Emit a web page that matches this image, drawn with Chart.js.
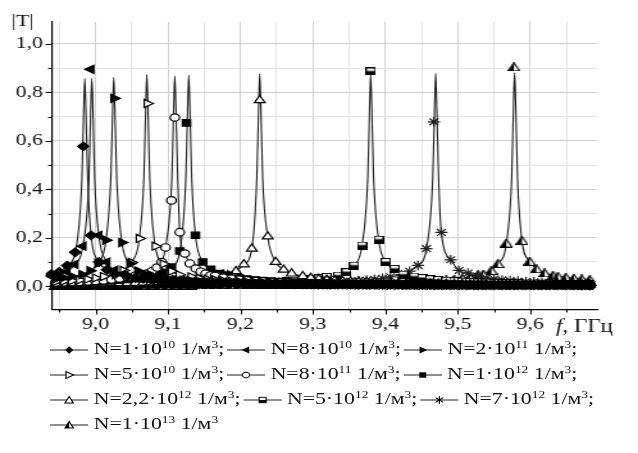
<!DOCTYPE html>
<html>
<head>
<meta charset="utf-8">
<script src="https://cdn.jsdelivr.net/npm/chart.js@4.4.1/dist/chart.umd.min.js"></script>
<style>
html, body { margin: 0; padding: 0; background: #fff; width: 638px; height: 453px; overflow: hidden; }
#wrap { width: 498px; transform: scaleX(1.2811); transform-origin: 0 0; }
#box { position: relative; width: 498px; height: 336px; }
#legend { font-family: "Liberation Serif", "Times New Roman", serif; font-size: 17px; color: #111; padding-left: 39px; }
.row { height: 25px; line-height: 25px; white-space: nowrap; }
.row svg { vertical-align: -1px; }
.item { margin-right: 2px; }
sup { font-size: 10.5px; line-height: 0; vertical-align: 6px; }
</style>
</head>
<body>
<div id="wrap">
  <div id="box"><canvas id="myChart"></canvas></div>
  <div id="legend"></div>
</div>
<script>
// Legend text: N = mantissa * 10^exponent 1/m^3
const mantissa = ['1', '8', '2', '5', '8', '1', '2,2', '5', '7', '1'];
const exponent = [10, 10, 11, 10, 11, 12, 12, 12, 12, 13];

// Frequency grid of the baseline markers, GHz
const freqs = [8.945, 8.956, 8.967, 8.978, 8.989, 9.000, 9.011, 9.022, 9.033, 9.044,
  9.055, 9.066, 9.077, 9.088, 9.099, 9.110, 9.121, 9.132, 9.143, 9.154,
  9.165, 9.176, 9.187, 9.198, 9.209, 9.220, 9.231, 9.242, 9.253, 9.264,
  9.275, 9.286, 9.297, 9.308, 9.319, 9.330, 9.341, 9.352, 9.363, 9.374,
  9.385, 9.396, 9.407, 9.418, 9.429, 9.440, 9.451, 9.462, 9.473, 9.484,
  9.495, 9.506, 9.517, 9.528, 9.539, 9.550, 9.561, 9.572, 9.583, 9.594,
  9.605, 9.616, 9.627, 9.638, 9.649, 9.660, 9.671, 9.682];

// |T| on that grid (null = close to the peak, see mark arrays)
const base1 = [null, null, null, null, null, null, null, null, null, 0.041,
  0.034, 0.030, 0.026, 0.023, 0.021, 0.019, 0.018, 0.016, 0.015, 0.014,
  0.013, 0.013, 0.012, 0.011, 0.011, 0.010, 0.010, 0.009, 0.009, 0.009,
  0.008, 0.008, 0.008, 0.007, 0.007, 0.007, 0.007, 0.007, 0.006, 0.006,
  0.006, 0.006, 0.006, 0.006, 0.005, 0.005, 0.005, 0.005, 0.005, 0.005,
  0.005, 0.005, 0.005, 0.004, 0.004, 0.004, 0.004, 0.004, 0.004, 0.004,
  0.004, 0.004, 0.004, 0.004, 0.004, 0.004, 0.003, 0.003];
const base2 = [null, null, null, null, null, null, null, null, null, null,
  0.040, 0.034, 0.029, 0.026, 0.023, 0.021, 0.019, 0.018, 0.016, 0.015,
  0.014, 0.013, 0.013, 0.012, 0.011, 0.011, 0.010, 0.010, 0.009, 0.009,
  0.009, 0.008, 0.008, 0.008, 0.007, 0.007, 0.007, 0.007, 0.007, 0.006,
  0.006, 0.006, 0.006, 0.006, 0.006, 0.005, 0.005, 0.005, 0.005, 0.005,
  0.005, 0.005, 0.005, 0.005, 0.004, 0.004, 0.004, 0.004, 0.004, 0.004,
  0.004, 0.004, 0.004, 0.004, 0.004, 0.004, 0.004, 0.003];
const base3 = [0.030, 0.035, 0.041, null, null, null, null, null, null, null,
  null, null, 0.046, 0.038, 0.032, 0.028, 0.025, 0.022, 0.020, 0.019,
  0.017, 0.016, 0.015, 0.014, 0.013, 0.012, 0.012, 0.011, 0.011, 0.010,
  0.010, 0.009, 0.009, 0.008, 0.008, 0.008, 0.008, 0.007, 0.007, 0.007,
  0.007, 0.007, 0.006, 0.006, 0.006, 0.006, 0.006, 0.006, 0.005, 0.005,
  0.005, 0.004, 0.004, 0.004, 0.004, 0.004, 0.004, 0.004, 0.004, 0.004,
  0.004, 0.004, 0.004, 0.004, 0.004, 0.004, 0.004, 0.004];
const base4 = [0.019, 0.021, 0.023, 0.026, 0.029, 0.034, 0.040, null, null, null,
  null, null, null, null, null, null, null, 0.039, 0.033, 0.029,
  0.026, 0.023, 0.021, 0.019, 0.017, 0.016, 0.015, 0.014, 0.013, 0.012,
  0.012, 0.011, 0.011, 0.010, 0.010, 0.009, 0.009, 0.009, 0.008, 0.008,
  0.008, 0.007, 0.007, 0.007, 0.007, 0.007, 0.006, 0.006, 0.006, 0.006,
  0.006, 0.006, 0.005, 0.005, 0.005, 0.005, 0.005, 0.005, 0.005, 0.005,
  0.004, 0.004, 0.004, 0.004, 0.004, 0.004, 0.004, 0.004];
const base5 = [0.015, 0.016, 0.017, 0.018, 0.020, 0.022, 0.024, 0.028, 0.032, 0.037,
  0.044, null, null, null, null, null, null, null, null, null,
  0.043, 0.036, 0.031, 0.027, 0.024, 0.022, 0.020, 0.018, 0.017, 0.015,
  0.014, 0.014, 0.013, 0.012, 0.011, 0.011, 0.010, 0.010, 0.009, 0.009,
  0.009, 0.008, 0.008, 0.008, 0.008, 0.007, 0.007, 0.007, 0.007, 0.006,
  0.006, 0.006, 0.006, 0.006, 0.006, 0.006, 0.005, 0.005, 0.005, 0.005,
  0.005, 0.005, 0.005, 0.005, 0.005, 0.004, 0.004, 0.004];
const base6 = [0.013, 0.014, 0.015, 0.016, 0.017, 0.019, 0.020, 0.022, 0.025, 0.028,
  0.032, 0.038, null, null, null, null, null, null, null, null,
  null, null, null, 0.035, 0.030, 0.026, 0.024, 0.021, 0.019, 0.018,
  0.016, 0.015, 0.014, 0.013, 0.013, 0.012, 0.011, 0.011, 0.010, 0.010,
  0.009, 0.009, 0.009, 0.008, 0.008, 0.008, 0.007, 0.007, 0.007, 0.007,
  0.007, 0.006, 0.006, 0.006, 0.006, 0.006, 0.006, 0.005, 0.005, 0.005,
  0.005, 0.005, 0.005, 0.005, 0.005, 0.005, 0.004, 0.004];
const base7 = [0.009, 0.009, 0.009, 0.010, 0.010, 0.011, 0.011, 0.012, 0.012, 0.013,
  0.014, 0.015, 0.016, 0.017, 0.019, 0.021, 0.023, 0.025, 0.029, 0.033,
  0.039, 0.047, null, null, null, null, null, null, null, null,
  null, 0.041, 0.034, 0.030, 0.026, 0.023, 0.021, 0.019, 0.018, 0.016,
  0.015, 0.014, 0.013, 0.013, 0.012, 0.011, 0.011, 0.010, 0.010, 0.009,
  0.009, 0.009, 0.008, 0.008, 0.008, 0.007, 0.007, 0.007, 0.007, 0.006,
  0.006, 0.006, 0.006, 0.006, 0.006, 0.005, 0.005, 0.005];
const base8 = [0.006, 0.006, 0.006, 0.006, 0.006, 0.006, 0.007, 0.007, 0.007, 0.007,
  0.007, 0.008, 0.008, 0.008, 0.009, 0.009, 0.009, 0.010, 0.010, 0.011,
  0.011, 0.012, 0.012, 0.013, 0.014, 0.015, 0.016, 0.017, 0.019, 0.021,
  0.023, 0.026, 0.029, 0.033, 0.039, null, null, null, null, null,
  null, null, null, null, null, 0.040, 0.034, 0.029, 0.026, 0.023,
  0.021, 0.019, 0.018, 0.016, 0.015, 0.014, 0.013, 0.013, 0.012, 0.011,
  0.011, 0.010, 0.010, 0.009, 0.009, 0.009, 0.008, 0.008];
const base9 = [0.005, 0.005, 0.005, 0.005, 0.005, 0.005, 0.005, 0.005, 0.006, 0.006,
  0.006, 0.006, 0.006, 0.006, 0.006, 0.007, 0.007, 0.007, 0.007, 0.008,
  0.008, 0.008, 0.009, 0.009, 0.009, 0.010, 0.010, 0.011, 0.011, 0.012,
  0.012, 0.013, 0.014, 0.015, 0.016, 0.017, 0.019, 0.021, 0.023, 0.025,
  0.029, 0.033, 0.039, null, null, null, null, null, null, null,
  null, null, null, 0.041, 0.034, 0.030, 0.026, 0.023, 0.021, 0.019,
  0.018, 0.016, 0.015, 0.014, 0.013, 0.013, 0.012, 0.011];
const base10 = [0.004, 0.004, 0.004, 0.004, 0.004, 0.004, 0.004, 0.004, 0.004, 0.004,
  0.005, 0.005, 0.005, 0.005, 0.005, 0.005, 0.005, 0.005, 0.006, 0.006,
  0.006, 0.006, 0.006, 0.006, 0.007, 0.007, 0.007, 0.007, 0.007, 0.008,
  0.008, 0.008, 0.009, 0.009, 0.009, 0.010, 0.010, 0.011, 0.011, 0.012,
  0.012, 0.013, 0.014, 0.015, 0.016, 0.017, 0.019, 0.021, 0.023, 0.026,
  0.029, 0.033, 0.039, 0.048, null, null, null, null, null, null,
  null, null, null, 0.041, 0.037, 0.033, 0.030, 0.028];

// Markers around each resonance (frequency, |T|)
const markF1 = [8.9389, 8.9499, 8.9609, 8.9719, 8.9829, 8.9939, 9.0049, 9.0159, 9.0269];
const markT1 = [0.050, 0.059, 0.085, 0.140, 0.577, 0.210, 0.100, 0.068, 0.050];
const markF2 = [8.9385, 8.9495, 8.9605, 8.9715, 8.9825, 8.9935, 9.0045, 9.0155, 9.0265, 9.0375];
const markT2 = [0.043, 0.046, 0.060, 0.090, 0.165, 0.895, 0.210, 0.100, 0.066, 0.049];
const markF3 = [8.9815, 8.9925, 9.0035, 9.0145, 9.0255, 9.0365, 9.0475, 9.0585, 9.0695];
const markT3 = [0.048, 0.064, 0.095, 0.190, 0.775, 0.180, 0.093, 0.063, 0.047];
const markF4 = [9.0275, 9.0385, 9.0495, 9.0605, 9.0715, 9.0825, 9.0935, 9.1045, 9.1155];
const markT4 = [0.048, 0.065, 0.098, 0.197, 0.754, 0.165, 0.092, 0.062, 0.047];
const markF5 = [9.0711, 9.0779, 9.0847, 9.0914, 9.0966, 9.1048, 9.1094, 9.1163, 9.1232, 9.1301, 9.1383, 9.1452, 9.1520, 9.1588];
const markT5 = [0.052, 0.062, 0.077, 0.100, 0.160, 0.354, 0.696, 0.223, 0.135, 0.094, 0.073, 0.060, 0.052, 0.045];
const markF6 = [9.0810, 9.0928, 9.1048, 9.1163, 9.1255, 9.1379, 9.1480, 9.1590, 9.1713, 9.1830];
const markT6 = [0.045, 0.058, 0.079, 0.145, 0.674, 0.210, 0.100, 0.070, 0.052, 0.045];
const markF7 = [9.1827, 9.1937, 9.2047, 9.2157, 9.2266, 9.2376, 9.2486, 9.2596, 9.2706];
const markT7 = [0.045, 0.062, 0.090, 0.155, 0.767, 0.205, 0.100, 0.068, 0.052];
const markF8 = [9.3346, 9.3462, 9.3567, 9.3677, 9.3797, 9.3907, 9.4004, 9.4128, 9.4243];
const markT8 = [0.044, 0.058, 0.085, 0.168, 0.886, 0.192, 0.100, 0.072, 0.048];
const markF9 = [9.4220, 9.4335, 9.4450, 9.4566, 9.4670, 9.4772, 9.4901, 9.5015, 9.5140];
const markT9 = [0.048, 0.062, 0.086, 0.155, 0.678, 0.222, 0.109, 0.065, 0.054];
const markF10 = [9.5352, 9.5462, 9.5553, 9.5669, 9.5774, 9.5884, 9.5990, 9.6083, 9.6197, 9.6312];
const markT10 = [0.050, 0.065, 0.093, 0.178, 0.905, 0.189, 0.103, 0.072, 0.055, 0.045];

// Top of each resonance line (no markers)
const spikeF1 = [8.9812, 8.9837, 8.9852, 8.9867, 8.9892];
const spikeT1 = [0.44, 0.73, 0.857, 0.73, 0.44];
const spikeF2 = [8.9909, 8.9934, 8.9949, 8.9964, 8.9989];
const spikeT2 = [0.44, 0.73, 0.857, 0.73, 0.44];
const spikeF3 = [9.0212, 9.0237, 9.0252, 9.0267, 9.0292];
const spikeT3 = [0.45, 0.73, 0.862, 0.73, 0.45];
const spikeF4 = [9.0668, 9.0693, 9.0708, 9.0723, 9.0748];
const spikeT4 = [0.45, 0.74, 0.873, 0.74, 0.45];
const spikeF5 = [9.1054, 9.1079, 9.1094, 9.1109, 9.1134];
const spikeT5 = [0.45, 0.74, 0.867, 0.74, 0.45];
const spikeF6 = [9.1247, 9.1272, 9.1287, 9.1302, 9.1327];
const spikeT6 = [0.45, 0.74, 0.870, 0.74, 0.45];
const spikeF7 = [9.2226, 9.2251, 9.2266, 9.2281, 9.2306];
const spikeT7 = [0.45, 0.74, 0.876, 0.74, 0.45];
const spikeF8 = [9.3757, 9.3782, 9.3797, 9.3812, 9.3837];
const spikeT8 = [0.45, 0.74, 0.873, 0.74, 0.45];
const spikeF9 = [9.4654, 9.4679, 9.4694, 9.4709, 9.4734];
const spikeT9 = [0.45, 0.74, 0.877, 0.74, 0.45];
const spikeF10 = [9.5743, 9.5768, 9.5783, 9.5798, 9.5823];
const spikeT10 = [0.45, 0.75, 0.880, 0.75, 0.45];

const baseT = [base1, base2, base3, base4, base5, base6, base7, base8, base9, base10];
const markF = [markF1, markF2, markF3, markF4, markF5, markF6, markF7, markF8, markF9, markF10];
const markT = [markT1, markT2, markT3, markT4, markT5, markT6, markT7, markT8, markT9, markT10];
const spikeF = [spikeF1, spikeF2, spikeF3, spikeF4, spikeF5, spikeF6, spikeF7, spikeF8, spikeF9, spikeF10];
const spikeT = [spikeT1, spikeT2, spikeT3, spikeT4, spikeT5, spikeT6, spikeT7, spikeT8, spikeT9, spikeT10];

const FONT = '"Liberation Serif", "Times New Roman", serif';

// Half filled markers as small images
function halfSquare() {
    const c = document.createElement('canvas');
    c.width = 8; c.height = 8;
    const g = c.getContext('2d');
    g.fillStyle = '#fff'; g.fillRect(0.5, 0.5, 7, 7);
    g.fillStyle = '#000'; g.fillRect(0.5, 3.5, 7, 4);
    g.strokeStyle = '#000'; g.lineWidth = 1.2; g.strokeRect(0.5, 0.5, 7, 7);
    return c;
}
function halfTriangle() {
    const c = document.createElement('canvas');
    c.width = 10; c.height = 9;
    const g = c.getContext('2d');
    g.beginPath(); g.moveTo(5, 0.5); g.lineTo(9.5, 8.5); g.lineTo(0.5, 8.5); g.closePath();
    g.fillStyle = '#fff'; g.fill();
    g.beginPath(); g.moveTo(5, 0.5); g.lineTo(5, 8.5); g.lineTo(0.5, 8.5); g.closePath();
    g.fillStyle = '#000'; g.fill();
    g.beginPath(); g.moveTo(5, 0.5); g.lineTo(9.5, 8.5); g.lineTo(0.5, 8.5); g.closePath();
    g.strokeStyle = '#000'; g.lineWidth = 1.2; g.stroke();
    return c;
}

const markerStyle = [
    { pointStyle: 'rectRot', radius: 4.3, bg: '#000', rot: 0 },
    { pointStyle: 'triangle', radius: 4.7, bg: '#000', rot: -90 },
    { pointStyle: 'triangle', radius: 4.7, bg: '#000', rot: 90 },
    { pointStyle: 'triangle', radius: 4.7, bg: '#fff', rot: 90 },
    { pointStyle: 'circle', radius: 3.7, bg: '#fff', rot: 0 },
    { pointStyle: 'rect', radius: 4.5, bg: '#000', rot: 0 },
    { pointStyle: 'triangle', radius: 4.8, bg: '#fff', rot: 0 },
    { pointStyle: halfSquare(), radius: 4, bg: '#000', rot: 0 },
    { pointStyle: 'star', radius: 4.8, bg: '#222', rot: 0 },
    { pointStyle: halfTriangle(), radius: 4.5, bg: '#000', rot: 0 }
];

function buildSeries(k) {
    const f0 = spikeF[k][2];
    const markers = [];
    freqs.forEach((f, j) => {
        if (baseT[k][j] !== null) markers.push({ x: f, y: baseT[k][j] });
    });
    markF[k].forEach((f, i) => markers.push({ x: f, y: markT[k][i] }));
    markers.sort((a, b) => a.x - b.x);

    const line = markers.filter(p => Math.abs(p.x - f0) > 0.005)
        .concat(spikeF[k].map((f, i) => ({ x: f, y: spikeT[k][i] })));
    line.sort((a, b) => a.x - b.x);
    return { markers, line };
}

function seriesLabel(k) {
    return 'N=' + mantissa[k] + '·10' + exponent[k] + ' 1/м3';
}

const datasets = [];
for (let k = 0; k < 10; k++) {
    const s = buildSeries(k);
    datasets.push({
        label: seriesLabel(k) + ' line',
        data: s.line,
        borderColor: '#1e1e1e',
        borderWidth: 1.1,
        pointRadius: 0,
        fill: false,
        cubicInterpolationMode: 'monotone',
        order: 2
    });
    const m = markerStyle[k];
    datasets.push({
        label: seriesLabel(k),
        data: s.markers,
        showLine: false,
        pointStyle: m.pointStyle,
        pointRadius: m.radius,
        pointRotation: m.rot,
        pointBackgroundColor: m.bg,
        pointBorderColor: k === 8 ? '#222' : '#000',
        pointBorderWidth: 1.2,
        clip: 5,
        order: 1
    });
}

const isMajorX = v => Math.round(v * 100) % 10 === 0;
const isMajorY = v => Math.round(v * 10) % 2 === 0;

// Tick marks (outside, major/minor) and the two axis titles
const axisDecor = {
    id: 'axisDecor',
    afterDraw(chart) {
        const { ctx, chartArea, scales } = chart;
        ctx.save();
        ctx.strokeStyle = '#000';
        ctx.lineWidth = 1;
        ctx.beginPath();
        scales.x.ticks.forEach(t => {
            const px = Math.round(scales.x.getPixelForValue(t.value)) + 0.5;
            ctx.moveTo(px, chartArea.bottom);
            ctx.lineTo(px, chartArea.bottom + (isMajorX(t.value) ? 5 : 3));
        });
        scales.y.ticks.forEach(t => {
            const py = Math.round(scales.y.getPixelForValue(t.value)) + 0.5;
            ctx.moveTo(chartArea.left, py);
            ctx.lineTo(chartArea.left - (isMajorY(t.value) ? 5 : 3), py);
        });
        ctx.stroke();

        ctx.fillStyle = '#111';
        ctx.textBaseline = 'alphabetic';
        ctx.font = '17px ' + FONT;
        ctx.fillText('|T|', 9, 26);
        ctx.font = 'italic 18px ' + FONT;
        ctx.fillText('f', 434, 332);
        const w = ctx.measureText('f').width;
        ctx.font = '18px ' + FONT;
        ctx.fillText(', ГГц', 434 + w, 332);
        ctx.restore();
    }
};

const ctx = document.getElementById('myChart').getContext('2d');
new Chart(ctx, {
    type: 'line',
    data: { datasets: datasets },
    options: {
        responsive: true,
        maintainAspectRatio: false,
        animation: false,
        events: [],
        layout: { padding: { top: 22, right: 32, left: 0, bottom: 0 } },
        plugins: { legend: { display: false }, tooltip: { enabled: false } },
        scales: {
            x: {
                type: 'linear',
                min: 8.94,
                max: 9.692,
                afterFit: s => { s.height = 26.5; },
                ticks: {
                    stepSize: 0.05,
                    includeBounds: false,
                    autoSkip: false,
                    maxRotation: 0,
                    padding: 5,
                    color: '#111',
                    font: { family: FONT, size: 17 },
                    callback: v => isMajorX(v) ? v.toFixed(1).replace('.', ',') : ''
                },
                grid: {
                    drawTicks: false,
                    color: c => isMajorX(c.tick.value) ? '#d0d0d0' : '#e4e4e4',
                    lineWidth: 1
                },
                border: { display: true, color: '#000', width: 1.2 }
            },
            y: {
                min: -0.096,
                max: 1.09,
                afterFit: s => { s.width = 40.6; },
                ticks: {
                    stepSize: 0.1,
                    includeBounds: false,
                    padding: 7,
                    color: '#111',
                    font: { family: FONT, size: 17 },
                    callback: v => isMajorY(v) ? v.toFixed(1).replace('.', ',') : ''
                },
                grid: {
                    drawTicks: false,
                    color: c => isMajorY(c.tick.value) ? '#d0d0d0' : '#e4e4e4',
                    lineWidth: 1
                },
                border: { display: true, color: '#000', width: 1.2 }
            }
        }
    },
    plugins: [axisDecor]
});

// Legend below the chart, three entries a row
function icon(k) {
    const shapes = [
        '<polygon points="15,1.3 18.2,5 15,8.7 11.8,5" fill="#000"/>',
        '<polygon points="11.5,5 17.5,1.6 17.5,8.4" fill="#000"/>',
        '<polygon points="18.5,5 12.5,1.6 12.5,8.4" fill="#000"/>',
        '<polygon points="18.5,5 12.5,1.6 12.5,8.4" fill="#fff" stroke="#000" stroke-width="0.9"/>',
        '<circle cx="15" cy="5" r="2.8" fill="#fff" stroke="#000" stroke-width="0.9"/>',
        '<rect x="12.3" y="2.3" width="5.4" height="5.4" fill="#000"/>',
        '<polygon points="15,1.5 18.3,8 11.7,8" fill="#fff" stroke="#000" stroke-width="0.9"/>',
        '<rect x="12.3" y="2.3" width="5.4" height="5.4" fill="#fff" stroke="#000" stroke-width="0.9"/><rect x="12.3" y="5" width="5.4" height="2.7" fill="#000"/>',
        '<path d="M15 1.3V8.7M12 2.6L18 7.4M18 2.6L12 7.4" stroke="#000" stroke-width="0.9" fill="none"/>',
        '<polygon points="15,1.5 18.3,8 11.7,8" fill="#fff" stroke="#000" stroke-width="0.9"/><polygon points="15,1.5 15,8 11.7,8" fill="#000"/>'
    ];
    return '<svg width="30" height="10" viewBox="0 0 30 10"><line x1="0" y1="5" x2="30" y2="5" stroke="#222" stroke-width="1.1"/>' + shapes[k] + '</svg>';
}

const rows = [[0, 1, 2], [3, 4, 5], [6, 7, 8], [9]];
const legend = document.getElementById('legend');
rows.forEach(r => {
    const div = document.createElement('div');
    div.className = 'row';
    div.innerHTML = r.map(k => {
        const end = (k === 9) ? '' : ';';
        return '<span class="item">' + icon(k) + ' N=' + mantissa[k] + '·10<sup>' + exponent[k] +
            '</sup> 1/м<sup>3</sup>' + end + '</span>';
    }).join('');
    legend.appendChild(div);
});
</script>
</body>
</html>
